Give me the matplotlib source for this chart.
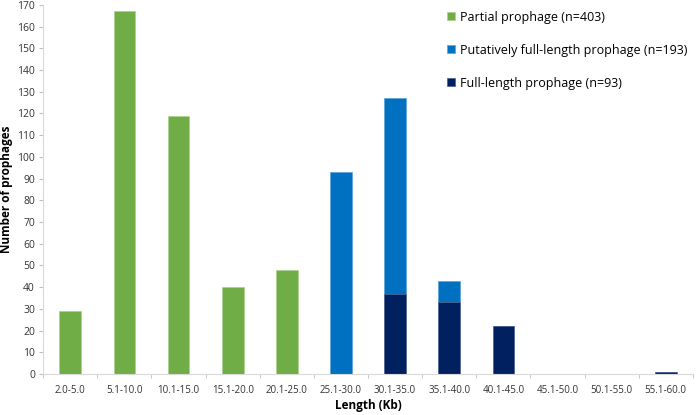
import numpy as np
import matplotlib.pyplot as plt

labels = ['2.0-5.0', '5.1-10.0', '10.1-15.0', '15.1-20.0', '20.1-25.0', '25.1-30.0',
          '30.1-35.0', '35.1-40.0', '40.1-45.0', '45.1-50.0', '50.1-55.0', '55.1-60.0']
partial = [29, 167, 119, 40, 48, 0, 0, 0, 0, 0, 0, 0]
putative = [0, 0, 0, 0, 0, 93, 90, 10, 0, 0, 0, 0]
full = [0, 0, 0, 0, 0, 0, 37, 33, 22, 0, 0, 1]

plt.rcParams['font.family'] = ['Open Sans', 'DejaVu Sans']

fig = plt.figure(figsize=(6.97, 4.15), dpi=100)
ax = fig.add_axes([0.062, 0.099, 0.932, 0.889])

ind = np.arange(len(labels))
width = 0.4
ax.bar(ind, partial, width, color='#70AD47', edgecolor='#A9D18E', linewidth=0.5,
       label='Partial prophage (n=403)')
ax.bar(ind, putative, width, bottom=full, color='#0070C0', edgecolor='#5BA3DB', linewidth=0.5,
       label='Putatively full-length prophage (n=193)')
ax.bar(ind, full, width, color='#002060', edgecolor='#4A5C8C', linewidth=0.5,
       label='Full-length prophage (n=93)')

ax.set_xlim(-0.5, len(labels) - 0.5)
ax.set_ylim(0, 170)
ax.set_yticks(np.arange(0, 171, 10))
ax.set_xticks(ind)
ax.set_xticklabels(labels, fontsize=7, color='#333333')
ax.set_xticks(np.arange(-0.5, len(labels), 1), minor=True)
ax.tick_params(axis='x', which='major', length=0, pad=8)
ax.tick_params(axis='x', which='minor', length=3, color='#BFBFBF')
ax.tick_params(axis='y', length=3, color='#BFBFBF', labelsize=7.5, labelcolor='#333333', pad=3)

for s in ['top', 'right']:
    ax.spines[s].set_visible(False)
for s in ['left', 'bottom']:
    ax.spines[s].set_color('#D9D9D9')

ax.set_xlabel('Length (Kb)', fontsize=8.5, fontweight='bold', labelpad=2)
ax.set_ylabel('Number of prophages', fontsize=8.5, fontweight='bold', labelpad=3)

h, l = ax.get_legend_handles_labels()
ax.legend(h, l, loc='upper left', bbox_to_anchor=(0.605, 1.015), frameon=False, fontsize=9,
          handlelength=0.6, handleheight=0.6, handletextpad=0.4, labelspacing=1.6)

fig.savefig('out.png', dpi=100)
